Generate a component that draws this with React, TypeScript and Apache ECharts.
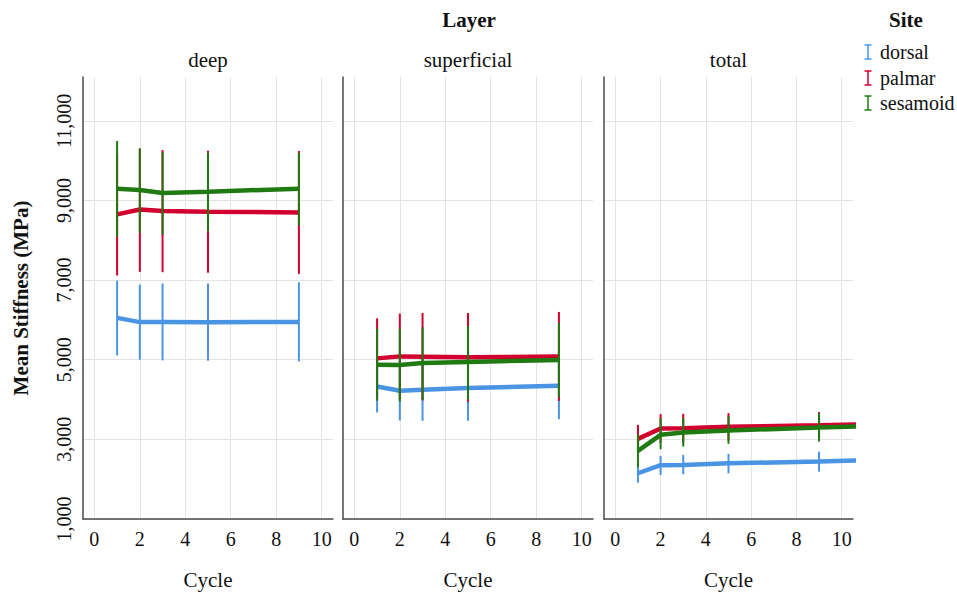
import React, { useEffect, useRef } from "react";
import * as echarts from "echarts";

const panels = ["deep", "superficial", "total"];
const sites = ["dorsal", "palmar", "sesamoid"];
const siteColors = ["#4a94e4", "#d2002e", "#1f7a12"];
const cycles = [1, 2, 3, 5, 9];
const totalLineCycles = [1, 2, 3, 5, 9, 11];
const yTickValues = [1000, 3000, 5000, 7000, 9000, 11000];

// deep
const deepDorsalMean = [6050, 5945, 5948, 5942, 5950];
const deepDorsalLow = [5109, 5000, 4983, 4975, 4958];
const deepDorsalHigh = [6988, 6887, 6912, 6912, 6945];
const deepPalmarMean = [8649, 8774, 8732, 8716, 8699];
const deepPalmarLow = [7114, 7207, 7198, 7181, 7156];
const deepPalmarHigh = [10184, 10300, 10266, 10251, 10242];
const deepSesamoidMean = [9295, 9260, 9185, 9220, 9295];
const deepSesamoidLow = [8088, 8188, 8146, 8228, 8372];
const deepSesamoidHigh = [10493, 10309, 10216, 10200, 10200];

// superficial
const supDorsalMean = [4329, 4220, 4246, 4288, 4346];
const supDorsalLow = [3675, 3473, 3466, 3466, 3508];
const supDorsalHigh = [4983, 4967, 5026, 5110, 5184];
const supPalmarMean = [5034, 5084, 5076, 5059, 5084];
const supPalmarLow = [4028, 4010, 3977, 3943, 3968];
const supPalmarHigh = [6040, 6158, 6175, 6175, 6200];
const supSesamoidMean = [4875, 4867, 4917, 4943, 4993];
const supSesamoidLow = [3970, 3950, 3994, 4010, 4061];
const supSesamoidHigh = [5780, 5780, 5813, 5838, 5924];

// total (line runs on past the last error bar to the panel edge)
const totDorsalMean = [2149, 2350, 2359, 2400, 2442, 2478];
const totDorsalLow = [1913, 2107, 2124, 2149, 2190];
const totDorsalHigh = [2385, 2585, 2610, 2635, 2693];
const totPalmarMean = [3013, 3272, 3281, 3315, 3357, 3380];
const totPalmarLow = [2661, 2910, 2920, 2971, 3030];
const totPalmarHigh = [3365, 3634, 3642, 3659, 3684];
const totSesamoidMean = [2711, 3113, 3171, 3222, 3297, 3332];
const totSesamoidLow = [2300, 2753, 2820, 2887, 2945];
const totSesamoidHigh = [3122, 3533, 3533, 3591, 3659];

const panelData = [
  {
    lineCycles: cycles,
    mean: [deepDorsalMean, deepPalmarMean, deepSesamoidMean],
    low: [deepDorsalLow, deepPalmarLow, deepSesamoidLow],
    high: [deepDorsalHigh, deepPalmarHigh, deepSesamoidHigh],
  },
  {
    lineCycles: cycles,
    mean: [supDorsalMean, supPalmarMean, supSesamoidMean],
    low: [supDorsalLow, supPalmarLow, supSesamoidLow],
    high: [supDorsalHigh, supPalmarHigh, supSesamoidHigh],
  },
  {
    lineCycles: totalLineCycles,
    mean: [totDorsalMean, totPalmarMean, totSesamoidMean],
    low: [totDorsalLow, totPalmarLow, totSesamoidLow],
    high: [totDorsalHigh, totPalmarHigh, totSesamoidHigh],
  },
];

const FONT = "'Liberation Serif', 'Times New Roman', serif";
const TEXT = "#111";
const AXIS = "#4a4a4a";
const GRID = "#e4e4e4";
const gridLefts = [83, 343, 604];
const gridWidths = [250, 250, 249];
const legendRowY = [52, 78, 103];

export default function App() {
  const ref = useRef<HTMLDivElement>(null);
  useEffect(() => {
    if (!ref.current) return;
    const chart = echarts.init(ref.current, null, { renderer: "svg" });

    const grids = panels.map((_, p) => ({
      left: gridLefts[p],
      top: 77,
      width: gridWidths[p],
      height: 442,
    }));

    const xAxes = panels.map((_, p) => ({
      gridIndex: p,
      type: "value",
      min: -0.5,
      max: 10.5,
      minInterval: 2,
      maxInterval: 2,
      splitNumber: 5,
      axisLine: { show: true, onZero: false, lineStyle: { color: AXIS, width: 1.5 } },
      axisTick: { show: false },
      axisLabel: {
        fontSize: 20,
        fontFamily: FONT,
        color: TEXT,
        margin: 10,
        formatter: (v: number) =>
          Number.isInteger(v) && v % 2 === 0 && v >= 0 && v <= 10 ? String(v) : "",
      },
      splitLine: {
        show: true,
        showMinLine: false,
        showMaxLine: false,
        lineStyle: { color: GRID, width: 1 },
      },
      name: "Cycle",
      nameLocation: "middle",
      nameGap: 50,
      nameTextStyle: { fontSize: 21, fontFamily: FONT, color: TEXT },
    }));

    const yAxes = panels.map((_, p) => ({
      gridIndex: p,
      type: "value",
      min: 1000,
      max: 12100,
      interval: 2000,
      axisLine: { show: true, onZero: false, lineStyle: { color: AXIS, width: 1.5 } },
      axisTick: { show: false },
      axisLabel: {
        show: p === 0,
        rotate: 90,
        fontSize: 20,
        fontFamily: FONT,
        color: TEXT,
        margin: 9,
        formatter: (v: number) =>
          yTickValues.indexOf(v) >= 0 ? v.toLocaleString("en-US") : "",
      },
      splitLine: {
        show: true,
        showMaxLine: false,
        lineStyle: { color: GRID, width: 1 },
      },
      name: p === 0 ? "Mean Stiffness (MPa)" : "",
      nameLocation: "middle",
      nameGap: 52,
      nameRotate: 90,
      nameTextStyle: {
        fontSize: 21,
        fontFamily: FONT,
        fontWeight: "bold",
        color: TEXT,
      },
    }));

    const series: any[] = [];
    panelData.forEach((pd, p) => {
      sites.forEach((site, s) => {
        const color = siteColors[s];
        series.push({
          type: "custom",
          name: site,
          xAxisIndex: p,
          yAxisIndex: p,
          z: 2 + s * 2,
          itemStyle: { color },
          encode: { x: 0, y: [1, 2] },
          data: cycles.map((c, i) => [c, pd.low[s][i], pd.high[s][i]]),
          renderItem: (params: any, api: any) => {
            const x = api.value(0);
            const lo = api.coord([x, api.value(1)]);
            const hi = api.coord([x, api.value(2)]);
            return {
              type: "line",
              shape: { x1: lo[0], y1: lo[1], x2: hi[0], y2: hi[1] },
              style: { stroke: color, lineWidth: 2 },
            };
          },
        });
        series.push({
          type: "line",
          name: site,
          xAxisIndex: p,
          yAxisIndex: p,
          z: 3 + s * 2,
          symbol: "none",
          showSymbol: false,
          clip: true,
          lineStyle: { color, width: 4.5 },
          itemStyle: { color },
          data: pd.lineCycles.map((c, i) => [c, pd.mean[s][i]]),
        });
      });
    });

    const legendItems: any[] = sites.map((site, i) => {
      const c = siteColors[i];
      const y = legendRowY[i];
      return {
        type: "group",
        children: [
          { type: "line", shape: { x1: 864.5, y1: y - 7, x2: 871.5, y2: y - 7 }, style: { stroke: c, lineWidth: 1.5 } },
          { type: "line", shape: { x1: 868, y1: y - 7, x2: 868, y2: y + 7 }, style: { stroke: c, lineWidth: 1.5 } },
          { type: "line", shape: { x1: 864.5, y1: y + 7, x2: 871.5, y2: y + 7 }, style: { stroke: c, lineWidth: 1.5 } },
          {
            type: "text",
            x: 880,
            y,
            style: {
              text: site,
              font: `20px ${FONT}`,
              fill: TEXT,
              textAlign: "left",
              textVerticalAlign: "middle",
            },
          },
        ],
      };
    });

    const graphic: any[] = [
      {
        type: "text",
        x: 469,
        y: 20,
        style: {
          text: "Layer",
          font: `bold 21px ${FONT}`,
          fill: TEXT,
          textAlign: "center",
          textVerticalAlign: "middle",
        },
      },
      {
        type: "text",
        x: 906,
        y: 20,
        style: {
          text: "Site",
          font: `bold 21px ${FONT}`,
          fill: TEXT,
          textAlign: "center",
          textVerticalAlign: "middle",
        },
      },
      ...panels.map((name, p) => ({
        type: "text",
        x: gridLefts[p] + gridWidths[p] / 2,
        y: 60,
        style: {
          text: name,
          font: `21px ${FONT}`,
          fill: TEXT,
          textAlign: "center",
          textVerticalAlign: "middle",
        },
      })),
      ...legendItems,
    ];

    chart.setOption({
      animation: false,
      backgroundColor: "#ffffff",
      textStyle: { fontFamily: FONT },
      grid: grids,
      xAxis: xAxes,
      yAxis: yAxes,
      series,
      graphic,
    });
    return () => chart.dispose();
  }, []);

  return (
    <div
      ref={ref}
      style={{ position: "fixed", left: 0, top: 0, width: 957, height: 603 }}
    />
  );
}
